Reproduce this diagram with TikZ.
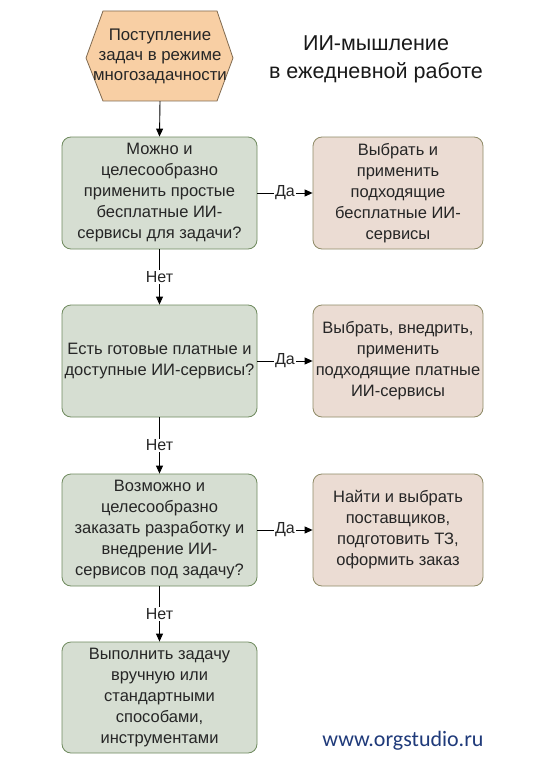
\documentclass[tikz,border=0pt]{standalone}
\usepackage{fontspec}
\setmainfont{Liberation Sans}
\newfontfamily\urlfont{Carlito}
\usetikzlibrary{arrows.meta}
\definecolor{gfill}{HTML}{D6DED2}
\definecolor{gdraw}{HTML}{6F8A5E}
\definecolor{pfill}{HTML}{EBDCD3}
\definecolor{pdraw}{HTML}{8E8A66}
\definecolor{hfill}{HTML}{F8CFA4}
\definecolor{hdraw}{HTML}{806A50}
\definecolor{urlc}{HTML}{1F3A7A}
\begin{document}
\begin{tikzpicture}[x=1pt,y=-1pt,
  txt/.style={font=\fontsize{16.5}{21}\selectfont, align=center, text=black!85},
  gbox/.style={txt, draw=gdraw, fill=gfill, rounded corners=9pt, minimum width=195pt, minimum height=112pt, inner sep=0pt, line width=0.8pt},
  pbox/.style={txt, draw=pdraw, fill=pfill, rounded corners=9pt, minimum width=170pt, minimum height=112pt, inner sep=0pt, line width=0.8pt},
  arr/.style={-{Triangle[length=8pt,width=7pt]}, line width=0.9pt, black},
  lbl/.style={font=\fontsize{16}{18}\selectfont, fill=white, inner sep=1pt, text=black!85}
]
\useasboundingbox (0,0) rectangle (537,765);
\fill[white] (0,0) rectangle (537,765);
% hexagon
\coordinate (h1) at (86,58);
\coordinate (h2) at (103,11);
\coordinate (h3) at (217,11);
\coordinate (h4) at (233,58);
\coordinate (h5) at (217,101);
\coordinate (h6) at (103,101);
\draw[draw=hdraw, fill=hfill, line width=0.8pt] (h1) -- (h2) -- (h3) -- (h4) -- (h5) -- (h6) -- cycle;
\node[txt, font=\fontsize{16.8}{20}\selectfont, minimum width=147pt, minimum height=90pt, inner sep=0pt] (hex) at (160,56) {Поступление\\задач в режиме\\многозадачности};

\node[font=\fontsize{21.5}{28}\selectfont, align=center, text=black!90] (title) at (376,59) {ИИ-мышление\\в ежедневной работе};

\node[gbox] (b1) at (159.5,193) {Можно и\\целесообразно\\применить простые\\бесплатные ИИ-\\сервисы для задачи?};
\node[pbox] (r1) at (398,193) {Выбрать и\\применить\\подходящие\\бесплатные ИИ-\\сервисы};
\node[gbox] (b2) at (159.5,361) {Есть готовые платные и\\доступные ИИ-сервисы?};
\node[pbox] (r2) at (398,361) {Выбрать, внедрить,\\применить\\подходящие платные\\ИИ-сервисы};
\node[gbox] (b3) at (159.5,530) {Возможно и\\целесообразно\\заказать разработку и\\внедрение ИИ-\\сервисов под задачу?};
\node[pbox] (r3) at (398,530) {Найти и выбрать\\поставщиков,\\подготовить ТЗ,\\оформить заказ};
\node[gbox, minimum height=111pt] (b4) at (159.5,697.5) {Выполнить задачу\\вручную или\\стандартными\\способами,\\инструментами};

\node[font=\urlfont\fontsize{22}{26}\selectfont, text=urlc] (url) at (403,741) {www.orgstudio.ru};

\draw[arr] (hex.south) -- (b1.north);
\draw[arr] (b1.east) -- node[lbl] {Да} (r1.west);
\draw[arr] (b2.east) -- node[lbl] {Да} (r2.west);
\draw[arr] (b3.east) -- node[lbl] {Да} (r3.west);
\draw[arr] (b1.south) -- node[lbl] {Нет} (b2.north);
\draw[arr] (b2.south) -- node[lbl] {Нет} (b3.north);
\draw[arr] (b3.south) -- node[lbl] {Нет} (b4.north);
\end{tikzpicture}
\end{document}
